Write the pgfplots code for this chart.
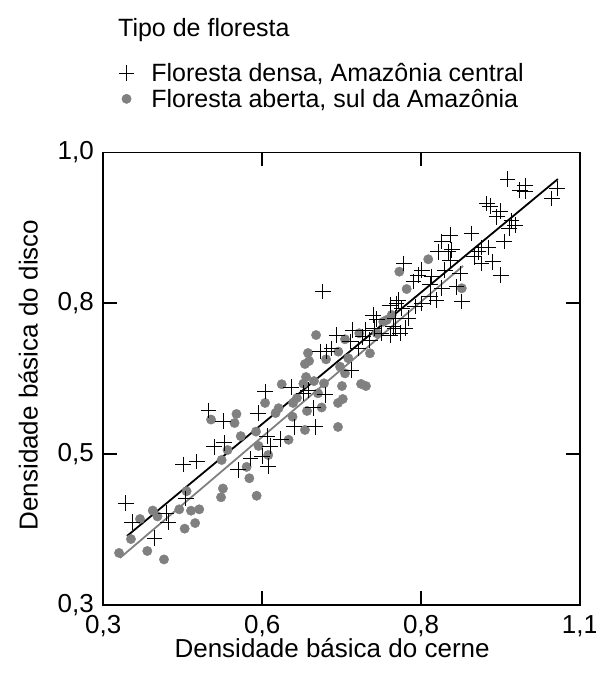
\documentclass[border=0pt]{standalone}
\usepackage{fontspec}
\setmainfont{Liberation Sans}
\usepackage{pgfplots}
\pgfplotsset{compat=1.18}
\definecolor{cgray}{RGB}{128,128,128}
\newcommand{\bigfont}{\fontsize{26}{31}\selectfont}
\newcommand{\legfont}{\fontsize{25}{30}\selectfont}
\begin{document}
\begin{tikzpicture}
\useasboundingbox (-103.3pt,-68pt) rectangle (492.7pt,605pt);
\begin{axis}[
  scale only axis, width=476.7pt, height=452.7pt,
  xmin=0, xmax=3, ymin=0, ymax=3,
  xtick={0,1,2,3}, xticklabels={{0,3},{0,6},{0,8},{1,1}},
  ytick={0,1,2,3}, yticklabels={{0,3},{0,5},{0,8},{1,0}},
  tick align=inside, major tick length=14pt,
  axis line style={line width=1.6pt},
  every tick/.style={black, line width=1.6pt},
  tick label style={font=\bigfont},
  xticklabel style={yshift=-7pt},
  yticklabel style={xshift=-6pt},
  xlabel={Densidade básica do cerne},
  ylabel={Densidade básica do disco},
  every axis x label/.style={at={(axis description cs:0.48,0)}, anchor=center, yshift=-43pt, font=\bigfont},
  every axis y label/.style={at={(axis description cs:0,0.508)}, anchor=center, rotate=90, yshift=75pt, font=\bigfont},
  clip=false,
  legend style={at={(axis description cs:0.032,1.1465)}, anchor=west, draw=none, fill=none,
    font=\legfont, inner sep=0pt, row sep=6pt, nodes={inner sep=0pt},
    /tikz/every odd column/.append style={column sep=17pt}},
  legend cell align=left,
]
% circles: Floresta aberta, sul da Amazonia
\addplot[only marks, mark=*, mark size=4.7pt, color=cgray, mark options={draw=cgray, fill=cgray}, forget plot] coordinates {
(0.099,0.345) (0.174,0.437) (0.231,0.570) (0.311,0.626) (0.341,0.587) (0.277,0.358) (0.382,0.302) (0.524,0.754) (0.478,0.634) (0.552,0.625) (0.604,0.634) (0.578,0.543) (0.512,0.506) (0.745,0.961) (0.782,1.027) (0.753,0.772) (0.741,0.714) (0.902,0.915) (0.919,0.840) (0.965,0.724) (0.977,1.054) (0.961,1.149) (0.865,1.119) (1.018,1.339) (0.838,1.266) (0.826,1.206) (0.678,1.229) (1.123,1.463) (1.103,1.304) (1.166,1.095) (1.194,1.339) (1.219,1.372) (1.276,1.511) (1.259,1.467) (1.326,1.484) (1.389,1.469) (1.351,1.403) (1.374,1.309) (1.282,1.286) (1.269,1.160) (1.191,1.248) (1.084,1.272) (1.038,0.994) (1.477,1.180) (1.477,1.339) (1.507,1.365) (1.269,1.597) (1.295,1.617) (1.339,1.789) (1.521,1.761) (1.611,1.801) (1.479,1.679) (1.542,1.635) (1.678,1.668) (1.402,1.628) (1.490,1.579) (1.521,1.535) (1.502,1.451) (1.622,1.465) (1.653,1.451) (1.784,1.889) (1.815,1.922) (1.863,2.209) (2.045,2.291) (1.909,2.094) (2.256,2.099) (1.762,1.877) (1.721,1.801) (1.288,1.670)
};
% pluses: Floresta densa, Amazonia central
\addplot[only marks, mark=+, mark size=7.8pt, mark options={line width=0.9pt, black}] coordinates {
(0.141,0.674) (0.181,0.550) (0.321,0.444) (0.395,0.610) (0.407,0.550) (0.503,0.931) (0.588,0.950) (0.520,0.706) (0.697,1.049) (0.760,1.074) (0.848,0.895) (0.661,1.289) (0.755,1.219) (0.926,0.972) (1.018,1.414) (0.975,1.272) (1.030,1.120) (1.049,1.054) (1.037,0.921) (0.999,0.987) (1.118,1.100) (1.200,1.180) (1.181,1.445) (1.332,1.180) (1.320,1.306) (1.259,1.403) (1.288,1.425) (1.395,1.392) (1.381,2.078) (1.469,1.789) (1.570,1.822) (1.406,1.679) (1.605,1.701) (1.699,1.922) (1.721,1.895) (1.804,1.988) (1.846,1.999) (1.752,1.801) (1.836,1.834) (1.563,1.557) (1.678,1.756) (2.318,2.463) (2.182,2.452) (2.130,2.408) (2.108,2.341) (2.171,2.341) (2.182,2.286) (1.892,2.264) (2.004,2.220) (1.982,2.187) (2.067,2.176) (2.150,2.220) (2.056,2.121) (2.130,2.099) (2.224,2.109) (1.951,2.143) (2.098,2.021) (2.256,2.010) (2.004,1.999) (1.856,2.021) (1.878,1.966) (2.056,2.043) (1.962,1.977) (1.836,1.900) (1.919,1.900) (1.825,1.844) (1.899,1.834) (1.704,1.834) (1.647,1.822) (1.804,1.789) (1.867,1.801) (2.545,2.823) (2.654,2.779) (2.654,2.739) (2.622,2.750) (2.857,2.761) (2.822,2.695) (2.413,2.662) (2.434,2.644) (2.497,2.611) (2.476,2.573) (2.570,2.547) (2.591,2.518) (2.555,2.496) (2.522,2.408) (2.381,2.370) (2.360,2.341) (2.423,2.370) (2.333,2.308) (2.381,2.264) (2.451,2.275) (2.501,2.187) (2.245,2.198) (2.193,2.353) (1.364,1.679) (1.437,1.701) (1.634,1.778) (1.553,1.745)
};
\addlegendentry{Floresta densa, Amazônia central}
\addlegendimage{only marks, mark=*, mark size=4.7pt, color=cgray, mark options={draw=cgray, fill=cgray}}
\addlegendentry{Floresta aberta, sul da Amazônia}
% regression lines
\addplot[black, line width=1.8pt, forget plot] coordinates {(0.149,0.457) (2.861,2.823)};
\addplot[cgray, line width=1.8pt, forget plot] coordinates {(0.105,0.312) (2.264,2.247)};
\end{axis}
\node[anchor=west, inner sep=0pt, font=\legfont] at (14.7pt,575pt) {Tipo de floresta};
\end{tikzpicture}
\end{document}
